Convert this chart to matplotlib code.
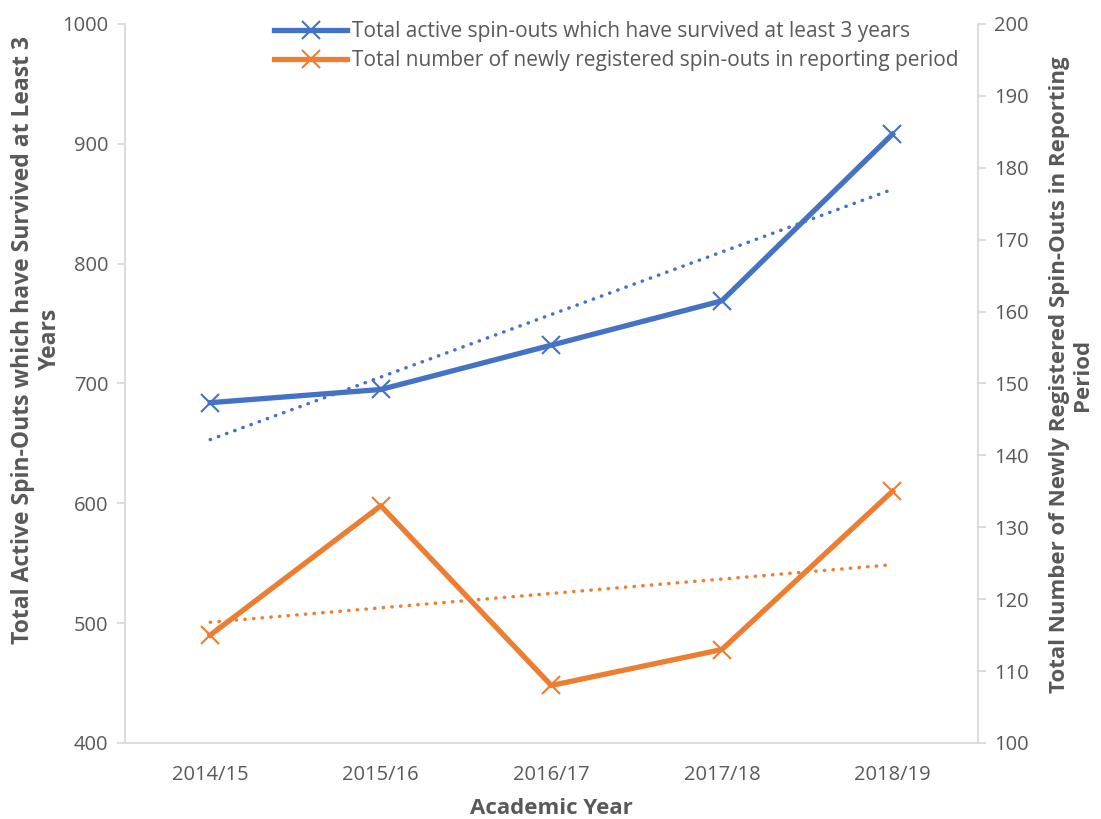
import matplotlib
matplotlib.use("Agg")
import matplotlib.pyplot as plt
import numpy as np

years = ["2014/15", "2015/16", "2016/17", "2017/18", "2018/19"]
survived = [684, 695, 732, 769, 908]
newly_registered = [115, 133, 108, 113, 135]

blue = "#4472C4"
orange = "#ED7D31"
gray = "#595959"
spine_c = "#D9D9D9"

plt.rcParams['font.family'] = ['Open Sans', 'DejaVu Sans']

fig = plt.figure(figsize=(11.01, 8.19), dpi=100)
ax = fig.add_axes([0.1135, 0.0928, 0.7745, 0.8779])
ax2 = ax.twinx()

x = np.arange(len(years))
l1, = ax.plot(x, survived, color=blue, lw=3.8, marker='x', ms=13, mew=1.5,
              label="Total active spin-outs which have survived at least 3 years", zorder=3)
l2, = ax2.plot(x, newly_registered, color=orange, lw=3.8, marker='x', ms=13, mew=1.5,
               label="Total number of newly registered spin-outs in reporting period", zorder=3)

# linear trendlines
p1 = np.polyfit(x, survived, 1)
ax.plot(x, np.polyval(p1, x), color=blue, lw=2.5, ls=(0, (0.1, 2.4)), dash_capstyle='round', zorder=2)
p2 = np.polyfit(x, newly_registered, 1)
ax2.plot(x, np.polyval(p2, x), color=orange, lw=2.5, ls=(0, (0.1, 2.4)), dash_capstyle='round', zorder=2)

ax.set_xlim(-0.5, 4.5)
ax.set_ylim(400, 1000)
ax2.set_ylim(100, 200)
ax.set_yticks(np.arange(400, 1001, 100))
ax2.set_yticks(np.arange(100, 201, 10))
ax.set_xticks(x)
ax.set_xticklabels(years)

for a in (ax, ax2):
    for s in a.spines.values():
        s.set_color(spine_c)
        s.set_linewidth(1.3)
    a.spines['top'].set_visible(False)
    a.tick_params(colors=gray, labelsize=14.5, length=6, width=1.3, color=spine_c)
ax.spines['right'].set_visible(False)
ax2.spines['left'].set_visible(False)
ax2.spines['bottom'].set_visible(False)
ax.tick_params(axis='x', length=0, pad=16)
ax.tick_params(axis='y', pad=6)
ax2.tick_params(axis='y', pad=6)

ax.set_xlabel("Academic Year", fontsize=16, fontweight='bold', color=gray, labelpad=9)
ax.set_ylabel("Total Active Spin-Outs which have Survived at Least 3\nYears", fontsize=16.5,
              fontweight='bold', color=gray, labelpad=0, linespacing=1.2)
ax.yaxis.label.set_y(0.56)
ax2.set_ylabel("Total Number of Newly Registered Spin-Outs in Reporting\nPeriod", fontsize=16,
               fontweight='bold', color=gray, rotation=90, labelpad=14, linespacing=1.15)
ax2.yaxis.label.set_y(0.512)

leg = ax.legend(handles=[l1, l2], loc='upper right', bbox_to_anchor=(1.0, 1.03), frameon=False,
                fontsize=15, labelcolor=gray, handlelength=3.5, handletextpad=0.25,
                labelspacing=0.38, borderpad=0.4)

fig.savefig("out.png", dpi=100)
